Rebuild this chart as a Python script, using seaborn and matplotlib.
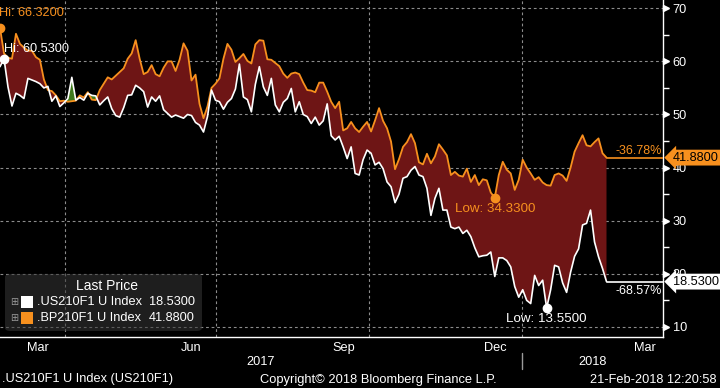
import numpy as np
import pandas as pd
import seaborn as sns
import matplotlib.pyplot as plt
import matplotlib.dates as mdates
import matplotlib.transforms as mtransforms
from matplotlib.patches import FancyBboxPatch, Rectangle

# two daily series (Feb-2017 .. Feb-2018)
start_date = "2017-02-21"
end_date = "2018-02-21"
us_name = ".US210F1 U Index"
bp_name = ".BP210F1 U Index"

us_values = [59.0, 60.53, 55.2, 51.6, 54.0, 53.6, 53.0, 56.8, 56.5, 56.2, 55.8, 55.0, 55.3, 52.5, 53.5, 51.5,
             52.2, 53.0, 57.0, 52.7, 53.2, 52.7, 54.0, 53.6, 53.5, 51.8, 52.6, 53.3, 51.1, 49.8, 49.5, 51.3,
             53.6, 53.7, 55.5, 55.0, 54.3, 51.4, 53.3, 52.5, 53.5, 50.9, 50.2, 49.5, 49.9, 49.6, 49.3, 50.0,
             49.8, 48.5, 48.0, 46.7, 49.6, 54.6, 52.7, 52.4, 51.0, 52.3, 53.0, 54.8, 59.5, 53.3, 52.8, 50.5,
             55.7, 59.0, 55.2, 53.6, 56.8, 51.8, 50.5, 52.3, 53.0, 54.9, 50.5, 52.4, 50.0, 49.6, 48.3, 49.5,
             48.0, 48.8, 52.0, 46.0, 45.2, 45.9, 43.9, 41.7, 43.9, 38.9, 38.6, 41.5, 43.3, 42.7, 40.5, 41.0,
             39.8, 37.3, 36.4, 33.4, 35.0, 38.0, 38.3, 39.5, 40.2, 38.6, 38.3, 36.1, 31.0, 34.2, 36.1, 32.0,
             32.0, 28.8, 28.5, 28.8, 27.6, 28.2, 27.0, 24.9, 23.2, 23.4, 23.5, 24.1, 19.5, 23.0, 23.0, 22.5,
             21.3, 17.6, 15.6, 17.0, 15.0, 14.4, 19.7, 17.8, 18.8, 13.55, 17.0, 21.6, 21.3, 18.3, 16.5, 20.3,
             23.3, 24.7, 29.2, 29.5, 32.0, 26.0, 23.2, 21.0, 18.53]

bp_values = [66.32, 61.5, 60.7, 60.5, 65.2, 63.3, 62.6, 62.0, 62.0, 60.8, 60.3, 56.6, 54.6, 54.4, 53.6, 52.5,
             52.6, 52.4, 52.5, 52.6, 53.6, 53.2, 54.2, 52.8, 52.7, 54.6, 55.8, 57.0, 56.6, 57.3, 58.0, 58.7,
             60.5, 61.5, 64.0, 60.5, 57.6, 58.0, 59.3, 57.6, 57.2, 58.8, 60.0, 60.0, 58.2, 60.3, 63.4, 62.0,
             56.4, 57.5, 52.0, 49.3, 51.5, 55.0, 55.8, 56.8, 60.5, 63.3, 62.2, 59.9, 60.6, 61.4, 60.1, 59.6,
             63.2, 64.0, 63.9, 60.4, 60.3, 59.7, 59.1, 57.7, 56.9, 57.7, 57.9, 57.6, 56.0, 54.6, 54.5, 54.2,
             56.0, 56.0, 54.3, 52.4, 51.2, 52.4, 47.0, 47.4, 48.6, 47.4, 46.7, 47.7, 48.6, 46.8, 48.9, 51.2,
             48.8, 47.4, 44.9, 39.7, 41.6, 43.9, 44.8, 46.3, 44.6, 41.0, 40.6, 42.6, 40.8, 42.1, 44.4, 43.4,
             42.3, 38.6, 39.2, 38.5, 38.3, 39.8, 37.3, 38.6, 36.7, 37.8, 37.6, 35.3, 34.33, 38.6, 41.1, 39.6,
             38.9, 35.8, 37.7, 41.5, 40.0, 38.9, 37.7, 38.2, 37.2, 36.7, 36.6, 38.6, 38.9, 38.5, 37.5, 40.0,
             43.0, 44.6, 46.1, 44.2, 44.0, 44.8, 45.5, 42.7, 41.88]

us_change = "-68.57%"
bp_change = "-36.78%"
month_labels = ["Mar", "Jun", "Sep", "Dec", "Mar"]
month_label_dates = ["2017-03-16", "2017-06-16", "2017-09-16", "2017-12-16", "2018-03-16"]
quarter_dates = ["2017-04-01", "2017-07-01", "2017-10-01", "2018-01-01"]
y_ticks = [10, 20, 30, 40, 50, 60, 70]
x_end = "2018-03-27"

orange = "#f7901e"
red_fill = "#6e1515"
green_fill = "#3f7a1c"
grid_col = "#8c8c8c"

sns.set_style("dark", rc={"axes.facecolor": "black", "figure.facecolor": "black"})
plt.rcParams["font.family"] = ["Liberation Sans", "DejaVu Sans"]
plt.rcParams["font.size"] = 9

dates = pd.date_range(start_date, end_date, periods=len(us_values))
df = pd.DataFrame({"date": dates, "US": us_values, "BP": bp_values})
us = df["US"].to_numpy()
bp = df["BP"].to_numpy()

fig = plt.figure(figsize=(7.2, 3.88), dpi=100)
ax = fig.add_axes([0, 1 - 337 / 388, 663 / 720, 337 / 388])
ax.set_facecolor("black")

# grid
for v in y_ticks:
    ax.axhline(v, color=grid_col, lw=0.8, ls=(0, (2.5, 2.5)), zorder=1)
for d in quarter_dates:
    ax.axvline(pd.Timestamp(d), color=grid_col, lw=0.8, ls=(0, (2.5, 2.5)), zorder=1)

# spread shading
ax.fill_between(df["date"], us, bp, where=bp >= us, interpolate=True, color=red_fill, lw=0, zorder=2)
ax.fill_between(df["date"], us, bp, where=bp < us, interpolate=True, color=green_fill, lw=0, zorder=2)

sns.lineplot(data=df, x="date", y="BP", color=orange, lw=1.3, ax=ax, zorder=3)
sns.lineplot(data=df, x="date", y="US", color="white", lw=1.2, ax=ax, zorder=4)

xmax = pd.Timestamp(x_end)
ax.plot([dates[-1], xmax], [bp[-1], bp[-1]], color=orange, lw=1.2, zorder=3)
ax.plot([dates[-1], xmax], [us[-1], us[-1]], color="white", lw=1.2, zorder=4)

ax.set_xlim(pd.Timestamp(start_date), xmax)
ax.set_ylim(8.1, 71.56)
ax.set_xlabel("")
ax.set_ylabel("")

# hi / low markers
def mark(idx, values, color, text, dx, dy, ha, size):
    ax.plot(dates[idx], values[idx], "o", color=color, ms=6, zorder=6, clip_on=False)
    ax.annotate(text, (dates[idx], values[idx]), xytext=(dx, dy), textcoords="offset points",
                ha=ha, va="center", color=color, fontsize=size, zorder=7)

mark(int(bp.argmax()), bp, orange, f"Hi: {bp.max():.4f}", -1, 11, "left", 9.2)
mark(int(us.argmax()), us, "white", f"Hi: {us.max():.4f}", 0, 7, "left", 9.2)
mark(int(bp.argmin()), bp, orange, f"Low: {bp.min():.4f}", 0, -8, "center", 9.6)
mark(int(us.argmin()), us, "white", f"Low: {us.min():.4f}", 0, -8, "center", 9.6)

# axes styling
for s in ["left", "top"]:
    ax.spines[s].set_visible(False)
for s in ["right", "bottom"]:
    ax.spines[s].set_color("white")
    ax.spines[s].set_linewidth(1.0)

ax.yaxis.tick_right()
ax.set_yticks(y_ticks)
ax.set_yticks(range(15, 70, 10), minor=True)
ax.tick_params(axis="y", which="major", length=0, pad=7, labelcolor="white", labelsize=9.2)
ax.tick_params(axis="y", which="minor", length=4, color="white", width=1, right=True, left=False)

tri = mtransforms.offset_copy(ax.get_yaxis_transform(), fig=fig, x=3, y=0, units="dots")
ax.plot([1.0] * len(y_ticks), y_ticks, transform=tri, marker=">", ms=5, color="white",
        ls="none", clip_on=False, zorder=8)

ax.xaxis.set_major_locator(mdates.MonthLocator())
ax.xaxis.set_major_formatter(plt.NullFormatter())
ax.set_xticks(pd.to_datetime(month_label_dates), labels=month_labels, minor=True)
ax.tick_params(axis="x", which="major", length=4, color="white", direction="out")
ax.tick_params(axis="x", which="minor", length=0, labelcolor="white", labelsize=9.2, pad=3.5)

# last value tags and changes
ytr = ax.get_yaxis_transform()
ax.annotate(bp_change, (1, bp[-1]), xycoords=ytr, xytext=(-1, 5), textcoords="offset points",
            ha="right", va="center", color=orange, annotation_clip=False)
ax.annotate(us_change, (1, us[-1]), xycoords=ytr, xytext=(-1, -6.5), textcoords="offset points",
            ha="right", va="center", color="white", annotation_clip=False)
ax.annotate(f"{bp[-1]:.4f}", (1, bp[-1]), xycoords=ytr, xytext=(7, 0), textcoords="offset points",
            ha="left", va="center", color="black", fontsize=9.2, annotation_clip=False, zorder=9,
            bbox=dict(boxstyle="larrow,pad=0.15", fc=orange, ec="none"))
ax.annotate(f"{us[-1]:.4f}", (1, us[-1]), xycoords=ytr, xytext=(7, 0), textcoords="offset points",
            ha="left", va="center", color="black", fontsize=9.2, annotation_clip=False, zorder=9,
            bbox=dict(boxstyle="larrow,pad=0.15", fc="white", ec="none"))

# years under the month axis
xtr = ax.get_xaxis_transform()
jan1 = pd.Timestamp(quarter_dates[-1])
ax.plot([jan1, jan1], [-0.048, -0.095], transform=xtr, color="#9a9a9a", lw=1, clip_on=False)
x0 = pd.Timestamp(start_date)
ax.text(x0 + (jan1 - x0) / 2, -0.074, "2017", transform=xtr, ha="center", va="center", color="white",
        fontsize=9.2)
ax.text(jan1 + (xmax - jan1) / 2, -0.074, "2018", transform=xtr, ha="center", va="center", color="white",
        fontsize=9.2)

# legend box
def fx(px):
    return px / 720

def fy(py):
    return 1 - py / 388

box = FancyBboxPatch((fx(5), fy(331)), fx(197), 57 / 388, boxstyle="round,pad=0,rounding_size=0.008",
                     transform=fig.transFigure, fc=(0.22, 0.22, 0.22, 0.55), ec="none", zorder=10)
fig.add_artist(box)
fig.text(fx(107), fy(286), "Last Price", ha="center", va="center", color="white", fontsize=10, zorder=11)
for row_y, name, val, col in [(302, us_name, us[-1], "white"), (318, bp_name, bp[-1], orange)]:
    fig.text(fx(14), fy(row_y), "\u229e", ha="center", va="center", color="#9a9a9a", fontsize=7, zorder=11,
             family=["DejaVu Sans"])
    fig.add_artist(Rectangle((fx(21), fy(row_y + 5.5)), fx(11.5), 11.5 / 388, transform=fig.transFigure,
                             fc=col, ec="none", zorder=11))
    fig.text(fx(37), fy(row_y), name, ha="left", va="center", color="white", fontsize=9.2, zorder=11)
    fig.text(fx(195), fy(row_y), f"{val:.4f}", ha="right", va="center", color="white", fontsize=9.2, zorder=11)

# footer
fig.text(fx(2), fy(379), f"{us_name} (US210F1)", ha="left", va="center", color="white", fontsize=9.2)
fig.text(fx(378), fy(380), "Copyright\u00a9 2018 Bloomberg Finance L.P.", ha="center", va="center",
         color="white", fontsize=9.3)
fig.text(fx(717), fy(380), "21-Feb-2018 12:20:58", ha="right", va="center", color="white", fontsize=9.2)

fig.savefig("out.png", dpi=100, facecolor="black")
